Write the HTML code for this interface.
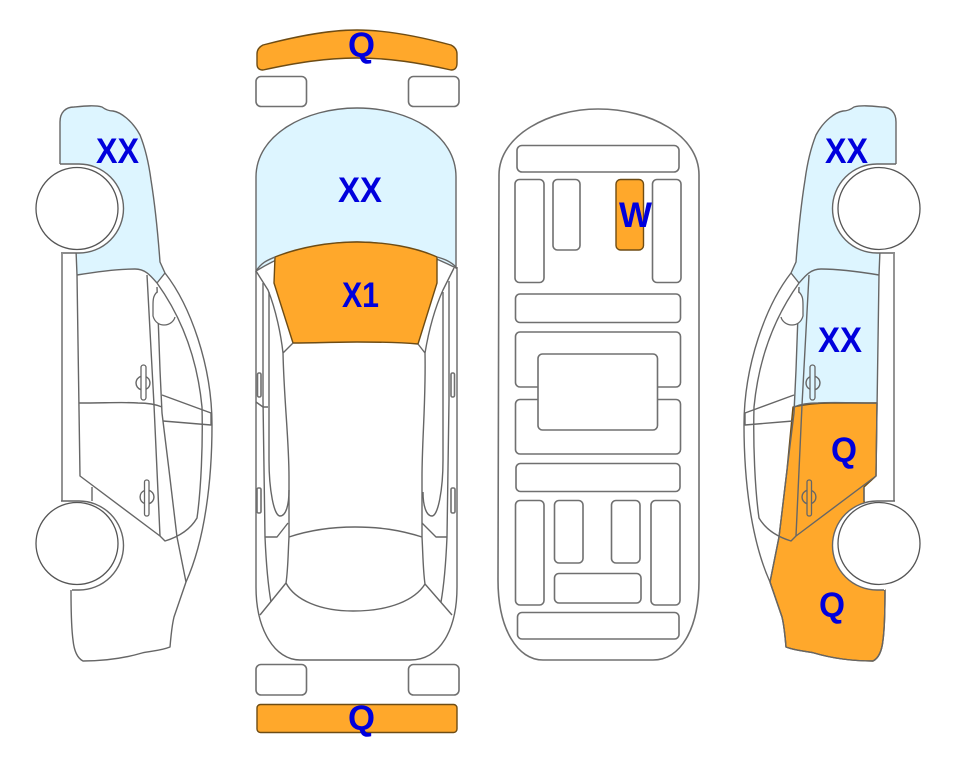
<!DOCTYPE html>
<html>
<head>
<meta charset="utf-8">
<style>
html,body{margin:0;padding:0;background:#fff;width:963px;height:768px;overflow:hidden}
svg{display:block}
.l{fill:none;stroke:#666;stroke-width:1.4;stroke-linejoin:round}
.r{fill:#fff;stroke:#707070;stroke-width:1.6}
.o{fill:#FFA82B;stroke:#6e4c14;stroke-width:1.4;stroke-linejoin:round}
.b{fill:#DDF5FF;stroke:none}
text{font-family:"Liberation Sans",sans-serif;font-weight:bold;font-size:35px;fill:#0000DD}
</style>
</head>
<body>
<svg width="963" height="768" viewBox="0 0 963 768" xmlns="http://www.w3.org/2000/svg">
<defs>
<g id="car">
  <path class="l" d="M60 164V122C60 112 66 107 74 107C85 106 95 105 102 107C106 110 109 111 113 111C120 112 132 120 140 135C146 150 149 165 151 180C155 205 158 235 160 262L165 273"/>
  <path class="l" d="M165 273C190 305 212 365 212 425C212 480 205 540 186 582L174 617C172 625 171 635 170 647C160 651 150 651 142 653C125 658 105 661 83 661C77 658 74 650 73 640C71 625 71 605 71 590"/>
  <path class="l" d="M157 283C180 315 197 355 202 407C203 445 201 490 197 518C190 530 178 537 165 541L160 536L80 476L77 275"/>
  <path class="l" d="M157 283L165 273M77 275C95 272 115 269 135 269C145 269 150 275 157 283"/>
  <path class="l" d="M62 254V502M77 275L76 250M147 275L154 405L160 536M157 287L160 370L162 413L169 470L177 537L186 582"/>
  <path class="l" d="M79 403C105 403 125 402 138 403C148 403 155 404 162 407M162 395L211 413V425L163 421"/>
  <path class="l" d="M92 487V501"/>
  <path d="M157 292C153 296 153 300 153 306V316C155 323 160 325 164 325C170 325 174 321 175 317" fill="#fff" stroke="#666" stroke-width="1.3"/>
  <path class="l" d="M146 376.700A7 7 0 0 1 146 389.300M141 376.300A7 7 0 0 0 141 389.700"/>
  <rect x="141" y="365" width="5" height="35" rx="2.5" fill="none" stroke="#666" stroke-width="1.3"/>
  <path class="l" d="M149 490.300A7 7 0 0 1 149 503.700M144.500 490.500A7 7 0 0 0 144.500 503.500"/>
  <rect x="144.500" y="480" width="4.500" height="36" rx="2" fill="none" stroke="#666" stroke-width="1.3"/>
  <path d="M60 164H79A44.500 44.500 0 0 1 79 253H61Z" fill="#fff"/>
  <path d="M61 501H79A44.500 44.500 0 0 1 79 590H71Z" fill="#fff"/>
  <path class="l" d="M60 164H79A44.500 44.500 0 0 1 79 253H61"/>
  <path class="l" d="M61 501H79A44.500 44.500 0 0 1 79 590H72"/>
  <circle cx="77" cy="208.500" r="41" fill="#fff" stroke="#555" stroke-width="1.300"/>
  <circle cx="77" cy="543.500" r="41" fill="#fff" stroke="#555" stroke-width="1.300"/>
</g>
</defs>

<!-- left side car -->
<path class="b" d="M60 164V122C60 112 66 107 74 107C85 106 95 105 102 107C106 110 109 111 113 111C120 112 132 120 140 135C146 150 149 165 151 180C155 205 158 235 160 262L165 273L157 283C150 275 145 269 135 269C115 269 95 272 77 275L76 240Z"/>
<use href="#car"/>

<!-- right side car -->
<g transform="translate(956,0) scale(-1,1)">
  <path class="b" d="M60 164V122C60 112 66 107 74 107C85 106 95 105 102 107C106 110 109 111 113 111C120 112 132 120 140 135C146 150 149 165 151 180C155 205 158 235 160 262L165 273L157 283C150 275 145 269 135 269C115 269 95 272 77 275L76 240Z"/>
  <path class="b" d="M77 275C95 272 115 269 135 269C145 269 150 275 157 283L160 370L163 407L136 403H79Z"/>
  <path class="o" d="M163 407C150 404 140 403 125 403H79L80 476L92 487V501L72 590H71C71 605 71 625 73 640C74 650 77 658 83 661C105 661 125 658 142 653C150 651 160 651 170 647C171 635 172 625 174 617L186 582L177 537L169 470Z"/>
  <use href="#car"/>
</g>

<!-- top view car -->
<path class="o" d="M257 54C257 50 259 47 263 45C290 38 325 30 357 30C390 30 425 38 451 45C455 47 457 50 457 54V63C457 68 455 70 451 70C420 63 390 58 357 58C325 58 295 63 263 70C259 70 257 68 257 64Z"/>
<rect class="r" x="256" y="76.500" width="50.500" height="30" rx="5"/>
<rect class="r" x="408.500" y="76.500" width="50.500" height="30" rx="5"/>
<path d="M256 271V177C256 135 305 108 357 108C410 108 456 135 456 177V268C420 250 390 242 357 242C325 242 290 250 256 271Z" fill="#DDF5FF" stroke="#666" stroke-width="1.400"/>
<path class="o" d="M275 257C300 247 330 242 357 242C385 242 415 247 437 257L437 283L418 344C395 342 375 342 357 342C335 342 315 343 293 343L274 283Z"/>
<path class="l" stroke-width="1.500" d="M256 271V587C256 630 275 660 300 660H410C440 660 457 630 457 587V267"/>
<path class="l" d="M256 271C262 262 268 260 275 257M456 267C450 261 444 259 437 257"/>
<path class="l" d="M256 271L268 290C276 310 281 335 283 353L293 343M283 353C284 400 289 440 289 477V537C288 555 288 570 286 583L260 615"/>
<path class="l" d="M454 268L443 290C434 310 428 335 425 353L418 344M425 353C426 400 422 440 422 477V537C423 555 423 570 425 584L452 615"/>
<path class="l" d="M263 283V400L265 537C266 560 268 585 271 602M269 292V460C269 490 274 516 280 516C286 516 289 505 289 490"/>
<path class="l" d="M449 281V400L447 537C446 560 444 585 441 602M443 292V460C443 490 438 516 432 516C426 516 423 505 423 492"/>
<path class="l" d="M256 402L263 407H268M265 537H277L288 523M447 537H436L422 523"/>
<path class="l" d="M289 537C310 530 330 527 355 527C380 527 400 530 422 537"/>
<path class="l" d="M286 583C295 600 320 611 353 611C390 611 415 600 425 584"/>
<rect class="r" stroke-width="1.200" x="257.500" y="373" width="3.500" height="24" rx="1.500"/>
<rect class="r" stroke-width="1.200" x="451" y="373" width="3.500" height="24" rx="1.500"/>
<rect class="r" stroke-width="1.200" x="257" y="488" width="4" height="25" rx="1.500"/>
<rect class="r" stroke-width="1.200" x="451" y="488" width="4" height="25" rx="1.500"/>
<rect class="r" x="256" y="664.500" width="50.500" height="30.500" rx="5"/>
<rect class="r" x="408.500" y="664.500" width="50.500" height="30.500" rx="5"/>
<rect class="o" x="257" y="704.500" width="200" height="28" rx="3.500"/>

<!-- underside -->
<path class="r" stroke-width="1.500" d="M499 175C499 135 550 109 598 109C650 109 699 135 699 175V580C699 630 680 660 653 660H543C518 660 498 630 498 580Z"/>
<rect class="r" x="517" y="145.500" width="162" height="26.500" rx="5"/>
<rect class="r" x="515" y="179.500" width="29" height="103" rx="4.500"/>
<rect class="r" x="553" y="179.500" width="27" height="70.500" rx="4.500"/>
<rect class="o" x="616" y="179.500" width="27.500" height="70.500" rx="4.500"/>
<rect class="r" x="652.500" y="179.500" width="28.500" height="103" rx="4.500"/>
<rect class="r" x="515.500" y="294" width="165" height="28.500" rx="4.500"/>
<rect class="r" x="515.500" y="332" width="165" height="55" rx="4.500"/>
<rect class="r" x="515.500" y="399.500" width="165" height="54.500" rx="4.500"/>
<rect class="r" x="538" y="354" width="119.500" height="76" rx="4.500"/>
<rect class="r" x="516" y="463.500" width="164" height="28" rx="4.500"/>
<rect class="r" x="515.500" y="500.500" width="28.500" height="104.500" rx="4.500"/>
<rect class="r" x="554.500" y="500.500" width="28.500" height="62.500" rx="4.500"/>
<rect class="r" x="611.500" y="500.500" width="28.500" height="62.500" rx="4.500"/>
<rect class="r" x="651" y="500.500" width="29" height="104.500" rx="4.500"/>
<rect class="r" x="554.500" y="573.500" width="86.500" height="29.500" rx="4.500"/>
<rect class="r" x="517.500" y="612.500" width="161.500" height="26.500" rx="4.500"/>

<!-- labels -->
<text x="96" y="163" textLength="43" lengthAdjust="spacingAndGlyphs">XX</text>
<text x="825" y="163" textLength="43" lengthAdjust="spacingAndGlyphs">XX</text>
<text x="818" y="352" textLength="44" lengthAdjust="spacingAndGlyphs">XX</text>
<text x="338" y="202" textLength="44" lengthAdjust="spacingAndGlyphs">XX</text>
<text x="342" y="307" textLength="37" lengthAdjust="spacingAndGlyphs">X1</text>
<text x="348" y="57" textLength="27" lengthAdjust="spacingAndGlyphs">Q</text>
<text x="348" y="730" textLength="27" lengthAdjust="spacingAndGlyphs">Q</text>
<text x="619" y="227" textLength="33" lengthAdjust="spacingAndGlyphs">W</text>
<text x="831" y="462" textLength="26" lengthAdjust="spacingAndGlyphs">Q</text>
<text x="819" y="617" textLength="26" lengthAdjust="spacingAndGlyphs">Q</text>
</svg>
</body>
</html>
